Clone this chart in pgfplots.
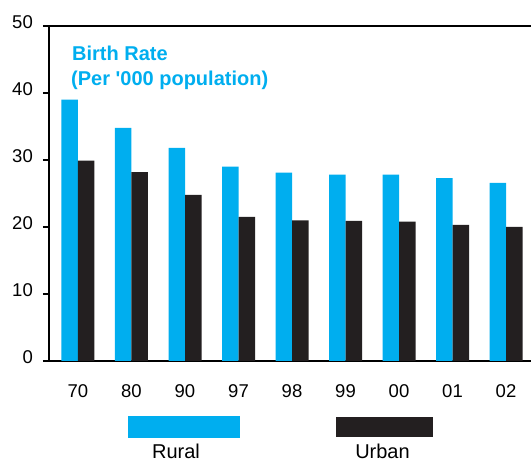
\documentclass[border=0pt]{standalone}
\usepackage{pgfplots}
\pgfplotsset{compat=1.18}
\usepackage{fontspec}
\setmainfont{Liberation Sans}
\definecolor{rural}{HTML}{00AEEF}
\definecolor{urban}{HTML}{231F20}
\begin{document}
\begin{tikzpicture}
\path[use as bounding box] (-49pt,-101pt) rectangle (482pt,361pt);
\begin{axis}[
  at={(0pt,0pt)}, anchor=south west,
  scale only axis, width=482pt, height=335pt,
  ybar=0pt, bar width=16.5pt,
  xmin=-0.542, xmax=8.467, ymin=0, ymax=50,
  xtick={0,...,8},
  xticklabels={70,80,90,97,98,99,00,01,02},
  ytick={0,10,20,30,40,50},
  axis y line*=left,
  axis x line*=box,
  y axis line style={line width=2pt},
  x axis line style={line width=1.5pt},
  tick align=outside,
  major tick length=6pt,
  ytick style={line width=1.3pt, black},
  xtick style={draw=none},
  /pgf/number format/assume math mode=true,
  ticklabel style={font=\fontsize{18.5}{20}\selectfont, inner sep=0pt},
  xticklabel style={anchor=base, yshift=-31pt},
  yticklabel style={anchor=base east, xshift=-10pt, yshift=-3pt},
  every axis plot/.append style={draw=none},
]
\addplot[fill=rural] coordinates {(0,39.0) (1,34.8) (2,31.8) (3,29.0) (4,28.1) (5,27.8) (6,27.8) (7,27.3) (8,26.6)};
\addplot[fill=urban] coordinates {(0,29.9) (1,28.2) (2,24.8) (3,21.5) (4,21.0) (5,20.9) (6,20.8) (7,20.3) (8,20.0)};
\end{axis}
\node[anchor=base west, inner sep=0pt, text=rural, font=\bfseries\fontsize{20}{24}\selectfont] at (23pt,300pt) {Birth Rate};
\node[anchor=base west, inner sep=0pt, text=rural, font=\bfseries\fontsize{20}{24}\selectfont] at (22pt,275pt) {(Per \textquotesingle000 population)};
\fill[rural] (79pt,-55pt) rectangle (191pt,-77pt);
\fill[urban] (287pt,-56pt) rectangle (384pt,-76pt);
\node[anchor=base, inner sep=0pt, font=\fontsize{20}{24}\selectfont] at (127pt,-98pt) {Rural};
\node[anchor=base, inner sep=0pt, font=\fontsize{20}{24}\selectfont] at (333.5pt,-98pt) {Urban};
\end{tikzpicture}
\end{document}
